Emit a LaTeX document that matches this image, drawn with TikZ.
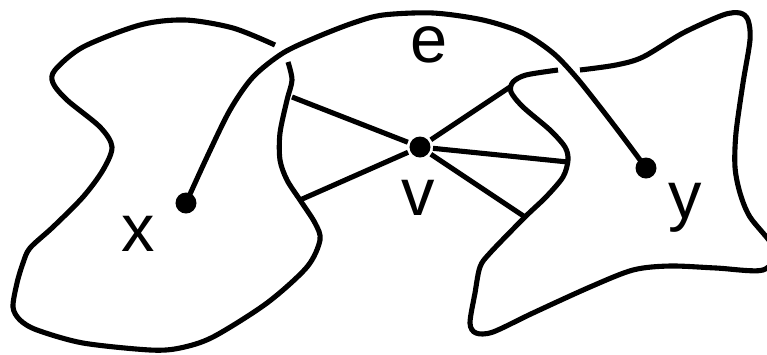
\documentclass[tikz,border=0pt]{standalone}
\usepackage{fontspec}
\setmainfont{Liberation Sans}
\begin{document}
\begin{tikzpicture}[line width=1.45pt,
    dot/.style={circle,fill,inner sep=0pt,minimum size=0.21cm},
    lbl/.style={font=\fontsize{19}{22}\selectfont,inner sep=0pt}]
    \useasboundingbox (0,0) rectangle (7.67,3.54);
    \clip (0,0) rectangle (7.67,3.54);
    % left region
    \draw plot [smooth] coordinates {(2.75,3.09) (2.33,3.26) (1.85,3.34) (1.40,3.29) (0.83,3.07) (0.55,2.84) (0.53,2.71) (0.67,2.54) (1.00,2.27) (1.12,2.07) (1.03,1.84) (0.83,1.57) (0.53,1.27) (0.30,1.06) (0.23,0.91) (0.17,0.71) (0.13,0.47) (0.20,0.34) (0.37,0.24) (0.83,0.11) (1.50,0.04) (1.80,0.06) (2.13,0.17) (2.67,0.51) (3.07,0.87) (3.20,1.14) (3.15,1.31) (3.00,1.54) (2.87,1.74) (2.80,1.94) (2.80,2.21) (2.87,2.54) (2.92,2.74) (2.88,2.92)};
    % right region
    \draw plot [smooth] coordinates {(5.58,2.84) (5.26,2.79) (5.13,2.72) (5.11,2.62) (5.23,2.47) (5.50,2.24) (5.65,2.07) (5.68,1.94) (5.63,1.77) (5.46,1.57) (5.25,1.37) (4.90,1.01) (4.80,0.87) (4.75,0.61) (4.70,0.31) (4.76,0.21) (4.93,0.22) (5.33,0.41) (5.90,0.67) (6.33,0.84) (6.70,0.88) (7.16,0.86) (7.63,0.84) (7.75,1.04) (7.50,1.37) (7.40,1.61) (7.35,1.87) (7.36,2.21) (7.43,2.71) (7.50,3.14) (7.48,3.34) (7.40,3.41) (7.23,3.39) (6.83,3.21) (6.43,2.97) (6.16,2.89) (5.80,2.84)};
    \node[dot] (x) at (1.86,1.51) {};
    \node[dot] (y) at (6.46,1.86) {};
    \node[dot] (v) at (4.20,2.07) {};
    \node[lbl] (xl) at (1.38,1.20) {x};
    \node[lbl] (yl) at (6.85,1.46) {y};
    \node[lbl] (vl) at (4.18,1.56) {v};
    \node[lbl] (el) at (4.29,3.09) {e};
    % ends of the spokes
    \coordinate (a1) at (2.92,2.57);
    \coordinate (a2) at (3.00,1.54);
    \coordinate (b1) at (5.10,2.67);
    \coordinate (b2) at (5.68,1.92);
    \coordinate (b3) at (5.25,1.37);
    \foreach \p in {a1,a2,b1,b2,b3}
        \draw (v) -- (\p);
    % the edge e
    \draw plot [smooth] coordinates {(x) (2.07,1.97) (2.30,2.44) (2.53,2.77) (2.83,3.01) (3.17,3.17) (3.53,3.31) (3.83,3.39) (4.33,3.41) (4.83,3.34) (5.23,3.21) (5.53,3.01) (5.76,2.77) (6.00,2.47) (6.23,2.17) (y)};
\end{tikzpicture}
\end{document}
